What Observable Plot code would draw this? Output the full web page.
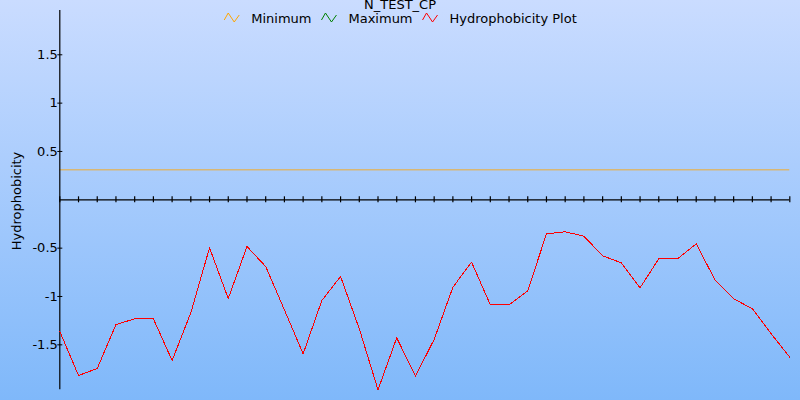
<!DOCTYPE html>
<html><head><meta charset="utf-8">
<script src="https://cdn.jsdelivr.net/npm/d3@7"></script>
<script src="https://cdn.jsdelivr.net/npm/@observablehq/plot@0.6"></script>
<style>
body{margin:0;}
#chart{position:relative;width:800px;height:400px;background:linear-gradient(to bottom,#cadcff,#7fb8fa);font-family:"DejaVu Sans",sans-serif;overflow:hidden}
#chart svg{position:absolute;left:0;top:0}
</style></head><body><div id="chart"></div>
<script>
const title = "N_TEST_CP";
const seriesNames = ["Minimum", "Maximum", "Hydrophobicity Plot"];
const seriesColors = ["orange", "green", "red"];
const yLabel = "Hydrophobicity";
const positions = d3.range(1, 41);
const hydrophobicity = [-1.362, -1.817, -1.745, -1.290, -1.231, -1.231, -1.662, -1.168, -0.496, -1.021,
  -0.483, -0.690, -1.138, -1.593, -1.041, -0.793, -1.334, -1.965, -1.427, -1.824,
  -1.444, -0.904, -0.645, -1.086, -1.086, -0.941, -0.352, -0.331, -0.376, -0.579,
  -0.652, -0.910, -0.610, -0.610, -0.455, -0.827, -1.024, -1.127, -1.385, -1.628];
const minimumValue = 0.31;
const yTicks = [-1.5, -1, -0.5, 0.5, 1, 1.5];
const yDomain = [-1.965, 1.958];

const W = 800, H = 400, mTop = 10, mBottom = 10.7, mLeft = 59.3, mRight = 10.7;
const tickHalf = 3 * (yDomain[1] - yDomain[0]) / (H - mTop - mBottom);
const data = positions.map((p, i) => ({pos: p, value: hydrophobicity[i]}));

const plot = Plot.plot({
  width: W, height: H, marginLeft: mLeft, marginRight: mRight, marginTop: mTop, marginBottom: mBottom,
  style: {background: "transparent", fontFamily: "DejaVu Sans", fontSize: "13px", color: "black", overflow: "visible"},
  x: {domain: [positions[0], positions[positions.length - 1]], axis: null},
  y: {domain: yDomain, axis: null},
  marks: [
    Plot.ruleY([minimumValue], {stroke: seriesColors[0], strokeWidth: 1, strokeOpacity: 0.8}),
    Plot.ruleY([0], {stroke: "black", strokeWidth: 1.2}),
    Plot.ruleX(positions, {x: d => d, y1: -tickHalf, y2: tickHalf, stroke: "black", strokeWidth: 1.2}),
    Plot.ruleX([positions[0]], {stroke: "black", strokeWidth: 1.2}),
    Plot.axisY({ticks: yTicks, tickSize: 5, tickPadding: 0, dx: 3, tickFormat: d => String(d), fontSize: 13, label: null, stroke: "black", fill: "black"}),
    Plot.line(data, {x: "pos", y: "value", stroke: seriesColors[2], strokeWidth: 1, shapeRendering: "crispEdges"})
  ]
});
const chart = document.getElementById("chart");
chart.appendChild(plot);

// overlay: title, legend, y-axis label
const ov = d3.select(chart).append("svg").attr("width", W).attr("height", H)
  .style("font-family", "DejaVu Sans").style("font-size", "13px").style("pointer-events", "none");
ov.append("text").attr("x", 400).attr("y", 9).attr("text-anchor", "middle").attr("fill", "black").text(title);
ov.append("text").attr("transform", "translate(17,201) rotate(-90)").attr("text-anchor", "middle")
  .attr("dominant-baseline", "middle").attr("fill", "black").text(yLabel);

const iconW = 17, gapIcon = 10, gapItem = 10;
const leg = ov.append("g");
let x = 0;
seriesNames.forEach((name, i) => {
  const g = leg.append("g").attr("transform", `translate(${x},0)`);
  g.append("polyline").attr("points", "0,9 4,2 10,11 15,4").attr("transform", "translate(0,11)")
    .attr("fill", "none").attr("stroke", seriesColors[i]).attr("stroke-width", 1);
  const t = g.append("text").attr("x", iconW + gapIcon).attr("y", 22.5).attr("fill", "black").text(name);
  x += iconW + gapIcon + t.node().getComputedTextLength() + gapItem;
});
const total = x - gapItem;
leg.attr("transform", `translate(${400.5 - total / 2},0)`);
</script>
</body></html>
